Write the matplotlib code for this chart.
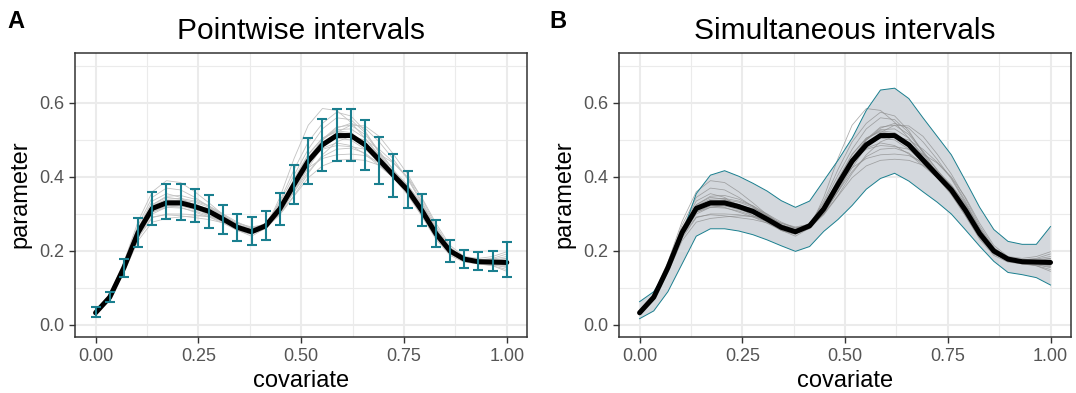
import numpy as np
import matplotlib
matplotlib.use("Agg")
import matplotlib.pyplot as plt
from matplotlib.ticker import MultipleLocator

plt.rcParams['font.family'] = ['Liberation Sans', 'DejaVu Sans']

# covariate grid (30 evaluation points)
x = np.linspace(0, 1, 30)

# posterior mean curve
mean = [0.033, 0.075, 0.155, 0.250, 0.315, 0.330, 0.330, 0.320, 0.307, 0.286,
        0.264, 0.252, 0.268, 0.314, 0.380, 0.443, 0.487, 0.512, 0.512, 0.487,
        0.446, 0.405, 0.365, 0.310, 0.247, 0.200, 0.178, 0.171, 0.170, 0.169]

# pointwise interval bounds (panel A)
pw_lo = [0.022, 0.062, 0.131, 0.211, 0.270, 0.287, 0.283, 0.277, 0.263, 0.247,
         0.227, 0.216, 0.231, 0.271, 0.327, 0.380, 0.417, 0.443, 0.443, 0.418,
         0.380, 0.346, 0.315, 0.267, 0.211, 0.170, 0.155, 0.148, 0.147, 0.129]
pw_hi = [0.049, 0.088, 0.178, 0.288, 0.359, 0.381, 0.380, 0.367, 0.350, 0.324,
         0.301, 0.291, 0.309, 0.357, 0.432, 0.506, 0.557, 0.585, 0.585, 0.553,
         0.508, 0.463, 0.415, 0.354, 0.283, 0.231, 0.203, 0.197, 0.199, 0.225]

# simultaneous band bounds (panel B)
sim_lo = [0.017, 0.038, 0.090, 0.165, 0.240, 0.260, 0.260, 0.254, 0.244, 0.230,
          0.214, 0.199, 0.212, 0.253, 0.285, 0.323, 0.367, 0.396, 0.410, 0.389,
          0.360, 0.332, 0.300, 0.257, 0.213, 0.172, 0.142, 0.136, 0.128, 0.108]
sim_hi = [0.063, 0.090, 0.150, 0.245, 0.355, 0.405, 0.417, 0.402, 0.383, 0.362,
          0.336, 0.318, 0.335, 0.390, 0.445, 0.505, 0.580, 0.635, 0.640, 0.612,
          0.560, 0.510, 0.460, 0.390, 0.318, 0.258, 0.226, 0.218, 0.218, 0.266]

# posterior draws (thin grey lines)
draws = [
    [0.038, 0.080, 0.165, 0.270, 0.345, 0.370, 0.365, 0.345, 0.320, 0.290, 0.262, 0.250, 0.265, 0.305, 0.360,
     0.415, 0.455, 0.475, 0.478, 0.465, 0.435, 0.400, 0.360, 0.305, 0.245, 0.200, 0.180, 0.175, 0.178, 0.185],
    [0.028, 0.070, 0.145, 0.235, 0.290, 0.300, 0.300, 0.298, 0.292, 0.280, 0.262, 0.255, 0.275, 0.330, 0.405,
     0.475, 0.530, 0.560, 0.555, 0.520, 0.470, 0.420, 0.370, 0.310, 0.245, 0.195, 0.172, 0.165, 0.160, 0.150],
    [0.035, 0.078, 0.160, 0.258, 0.325, 0.345, 0.340, 0.325, 0.305, 0.280, 0.255, 0.245, 0.270, 0.335, 0.420,
     0.495, 0.545, 0.575, 0.565, 0.525, 0.465, 0.410, 0.360, 0.300, 0.238, 0.192, 0.172, 0.168, 0.170, 0.175],
    [0.030, 0.072, 0.150, 0.242, 0.300, 0.318, 0.322, 0.318, 0.310, 0.295, 0.275, 0.262, 0.270, 0.300, 0.350,
     0.410, 0.460, 0.495, 0.510, 0.500, 0.475, 0.440, 0.400, 0.345, 0.275, 0.215, 0.185, 0.172, 0.165, 0.160],
    [0.036, 0.077, 0.158, 0.255, 0.322, 0.340, 0.342, 0.335, 0.322, 0.300, 0.272, 0.255, 0.266, 0.310, 0.375,
     0.440, 0.485, 0.505, 0.500, 0.475, 0.440, 0.405, 0.372, 0.322, 0.255, 0.203, 0.180, 0.175, 0.176, 0.180],
    [0.031, 0.073, 0.152, 0.246, 0.308, 0.322, 0.318, 0.305, 0.292, 0.275, 0.256, 0.246, 0.262, 0.315, 0.390,
     0.460, 0.505, 0.525, 0.520, 0.490, 0.445, 0.398, 0.352, 0.295, 0.235, 0.192, 0.175, 0.170, 0.168, 0.165],
    [0.034, 0.076, 0.157, 0.252, 0.318, 0.335, 0.338, 0.332, 0.318, 0.295, 0.270, 0.258, 0.272, 0.318, 0.378,
     0.425, 0.450, 0.460, 0.462, 0.458, 0.440, 0.410, 0.375, 0.320, 0.255, 0.205, 0.180, 0.172, 0.170, 0.168],
    [0.032, 0.074, 0.154, 0.248, 0.312, 0.328, 0.332, 0.325, 0.312, 0.290, 0.265, 0.250, 0.262, 0.308, 0.378,
     0.450, 0.500, 0.528, 0.530, 0.505, 0.460, 0.412, 0.368, 0.312, 0.250, 0.203, 0.178, 0.170, 0.167, 0.162],
    [0.033, 0.075, 0.155, 0.250, 0.312, 0.325, 0.322, 0.312, 0.300, 0.285, 0.266, 0.258, 0.275, 0.322, 0.388,
     0.452, 0.500, 0.532, 0.545, 0.532, 0.495, 0.448, 0.395, 0.330, 0.258, 0.205, 0.178, 0.168, 0.165, 0.168],
    [0.037, 0.079, 0.160, 0.256, 0.320, 0.335, 0.332, 0.318, 0.302, 0.282, 0.260, 0.248, 0.260, 0.302, 0.368,
     0.435, 0.482, 0.508, 0.508, 0.482, 0.442, 0.402, 0.362, 0.308, 0.248, 0.202, 0.180, 0.173, 0.172, 0.172],
    [0.029, 0.070, 0.148, 0.240, 0.292, 0.298, 0.295, 0.290, 0.285, 0.276, 0.262, 0.252, 0.265, 0.318, 0.395,
     0.462, 0.505, 0.522, 0.515, 0.488, 0.448, 0.408, 0.368, 0.315, 0.252, 0.202, 0.178, 0.170, 0.168, 0.166],
    [0.035, 0.077, 0.158, 0.255, 0.325, 0.348, 0.350, 0.340, 0.322, 0.296, 0.268, 0.252, 0.262, 0.305, 0.372,
     0.438, 0.478, 0.492, 0.485, 0.462, 0.430, 0.398, 0.365, 0.315, 0.255, 0.205, 0.180, 0.172, 0.172, 0.176],
    [0.040, 0.083, 0.170, 0.280, 0.360, 0.390, 0.385, 0.360, 0.330, 0.298, 0.268, 0.254, 0.262, 0.298, 0.348,
     0.398, 0.430, 0.445, 0.448, 0.445, 0.432, 0.405, 0.368, 0.312, 0.250, 0.205, 0.185, 0.180, 0.185, 0.198],
    [0.030, 0.072, 0.150, 0.245, 0.305, 0.318, 0.316, 0.308, 0.296, 0.278, 0.256, 0.240, 0.262, 0.345, 0.450,
     0.540, 0.585, 0.580, 0.548, 0.505, 0.455, 0.405, 0.355, 0.295, 0.232, 0.188, 0.170, 0.165, 0.162, 0.158],
    [0.027, 0.068, 0.142, 0.228, 0.278, 0.288, 0.292, 0.295, 0.294, 0.288, 0.275, 0.265, 0.272, 0.305, 0.360,
     0.425, 0.482, 0.520, 0.540, 0.538, 0.510, 0.462, 0.408, 0.342, 0.268, 0.210, 0.180, 0.168, 0.160, 0.145],
    [0.034, 0.076, 0.156, 0.252, 0.318, 0.336, 0.336, 0.326, 0.312, 0.292, 0.268, 0.255, 0.268, 0.315, 0.382,
     0.442, 0.475, 0.485, 0.482, 0.475, 0.462, 0.438, 0.398, 0.335, 0.262, 0.205, 0.178, 0.170, 0.172, 0.180],
    [0.036, 0.078, 0.160, 0.262, 0.335, 0.355, 0.345, 0.318, 0.295, 0.282, 0.270, 0.262, 0.270, 0.308, 0.372,
     0.445, 0.502, 0.535, 0.540, 0.515, 0.468, 0.418, 0.378, 0.328, 0.262, 0.208, 0.182, 0.176, 0.180, 0.192],
    [0.031, 0.073, 0.150, 0.244, 0.305, 0.322, 0.325, 0.322, 0.315, 0.300, 0.278, 0.262, 0.266, 0.300, 0.362,
     0.432, 0.488, 0.515, 0.512, 0.488, 0.452, 0.415, 0.378, 0.325, 0.258, 0.205, 0.178, 0.168, 0.163, 0.155],
]

titles = ["Pointwise intervals", "Simultaneous intervals"]
tags = ["A", "B"]

teal = "#1a7f8f"
grid_col = "#ebebeb"

fig = plt.figure(figsize=(10.76, 3.93), dpi=100)
axA = fig.add_axes([0.0697, 0.1433, 0.4204, 0.7227])
axB = fig.add_axes([0.5753, 0.1433, 0.4201, 0.7227])

# panel A: draws + pointwise error bars
for d in draws:
    axA.plot(x, d, color="#c2c2c2", lw=0.6, zorder=2)
axA.plot(x, mean, color="black", lw=3.6, zorder=3,
         solid_capstyle="round", solid_joinstyle="round")
m = np.array(mean)
axA.errorbar(x, m, yerr=[m - np.array(pw_lo), np.array(pw_hi) - m], fmt="none",
             ecolor=teal, elinewidth=1.5, capsize=3.6, capthick=1.5, zorder=4)

# panel B: simultaneous band
axB.fill_between(x, sim_lo, sim_hi, facecolor="#d4d8dd", edgecolor="none", zorder=1.5)
axB.plot(x, sim_lo, color=teal, lw=0.7, zorder=2.5)
axB.plot(x, sim_hi, color=teal, lw=0.7, zorder=2.5)
for d in draws:
    axB.plot(x, d, color="#8c8c8c", lw=0.55, alpha=0.75, zorder=2)
axB.plot(x, mean, color="black", lw=3.6, zorder=3,
         solid_capstyle="round", solid_joinstyle="round")

for ax, title, tag in zip([axA, axB], titles, tags):
    ax.set_xlim(-0.05, 1.05)
    ax.set_ylim(-0.0316, 0.736)
    ax.xaxis.set_major_locator(MultipleLocator(0.25))
    ax.xaxis.set_minor_locator(MultipleLocator(0.125))
    ax.yaxis.set_major_locator(MultipleLocator(0.2))
    ax.yaxis.set_minor_locator(MultipleLocator(0.1))
    ax.set_xticks([0, 0.25, 0.5, 0.75, 1.0])
    ax.set_xticklabels(["0.00", "0.25", "0.50", "0.75", "1.00"])
    ax.set_yticks([0, 0.2, 0.4, 0.6])
    ax.set_yticklabels(["0.0", "0.2", "0.4", "0.6"])
    ax.grid(which="major", color=grid_col, lw=1.5, zorder=0)
    ax.grid(which="minor", color=grid_col, lw=0.8, zorder=0)
    ax.set_axisbelow(True)
    ax.tick_params(which="major", length=4, width=1.0, color="#333333",
                   labelsize=13, labelcolor="#555555", pad=4)
    ax.tick_params(which="minor", length=0)
    for s in ax.spines.values():
        s.set_color("#333333")
        s.set_linewidth(1.1)
    ax.set_xlabel("covariate", fontsize=17, labelpad=4)
    ax.set_ylabel("parameter", fontsize=17, labelpad=5)
    ax.set_title(title, fontsize=21.5, pad=10)

fig.text(0.007, 0.945, "A", fontsize=17, fontweight="bold", va="center", ha="left")
fig.text(0.511, 0.945, "B", fontsize=17, fontweight="bold", va="center", ha="left")

fig.savefig("out.png", dpi=100)
